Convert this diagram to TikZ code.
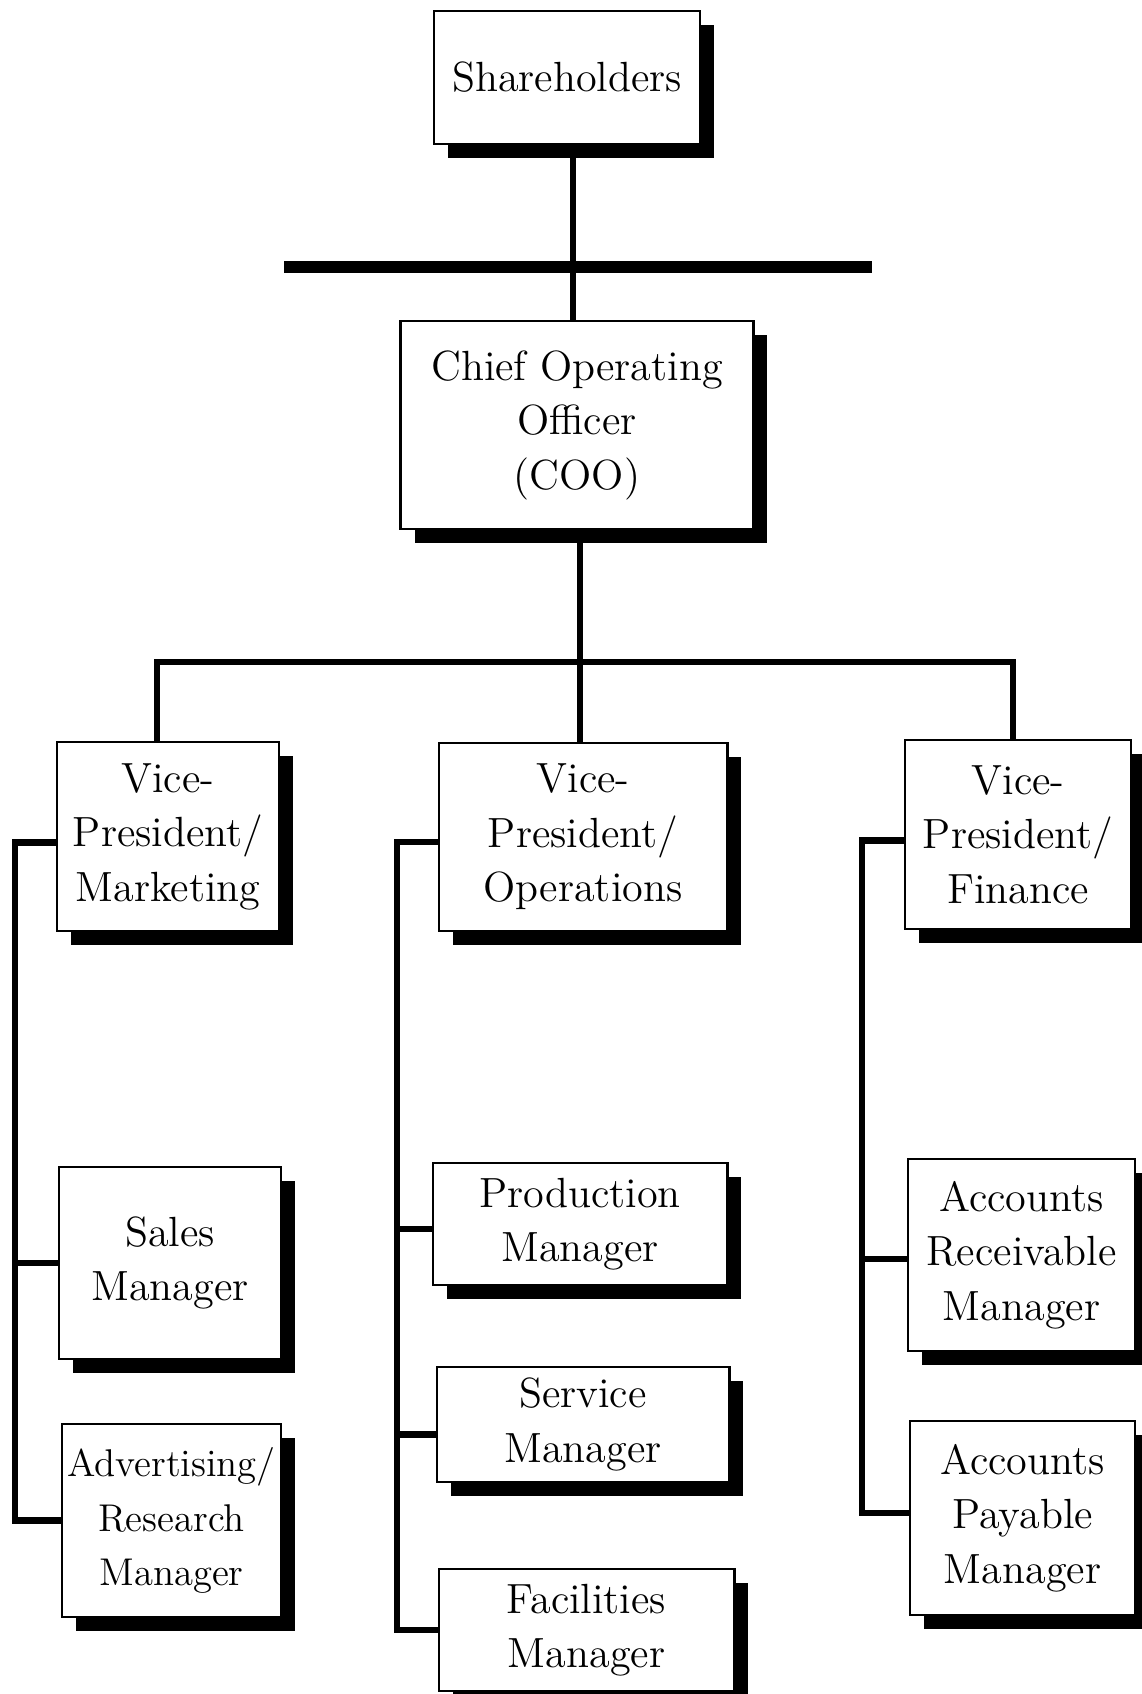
\documentclass[tikz,border=0pt]{standalone}
\usetikzlibrary{shadows}
\begin{document}
\begin{tikzpicture}[x=0.01cm,y=-0.01cm,
  post/.style={draw,line width=0.8pt,fill=white,align=center,inner sep=0pt,
    font=\fontsize{12}{15.5}\selectfont,
    drop shadow={shadow xshift=0.14cm,shadow yshift=-0.14cm,fill=black,opacity=1}},
  link/.style={line width=1.8pt},
  bar/.style={line width=3.4pt}]
\useasboundingbox (0,0) rectangle (1141,1694);
% top of the chart
\node[post,minimum width=2.66cm,minimum height=1.33cm] (sh) at (567,77.5) {Shareholders};
\node[post,minimum width=3.52cm,minimum height=2.08cm] (coo) at (577,425) {Chief Operating\\Officer\\(COO)};
% vice-presidents
\node[post,minimum width=2.22cm,minimum height=1.89cm] (vpm) at (168,836.5) {Vice-\\President/\\Marketing};
\node[post,minimum width=2.88cm,minimum height=1.88cm] (vpo) at (583,837) {Vice-\\President/\\Operations};
\node[post,minimum width=2.26cm,minimum height=1.89cm] (vpf) at (1018,834.5) {Vice-\\President/\\Finance};
% managers
\node[post,minimum width=2.22cm,minimum height=1.92cm] (sales) at (170,1263) {Sales\\Manager};
\node[post,minimum width=2.19cm,minimum height=1.93cm,font=\fontsize{11}{15.5}\selectfont] (adv) at (171.5,1520.5) {Advertising/\\Research\\Manager};
\node[post,minimum width=2.94cm,minimum height=1.22cm] (prod) at (580,1224) {Production\\Manager};
\node[post,minimum width=2.92cm,minimum height=1.15cm] (serv) at (583,1424.5) {Service\\Manager};
\node[post,minimum width=2.95cm,minimum height=1.22cm] (fac) at (586.5,1630) {Facilities\\Manager};
\node[post,minimum width=2.27cm,minimum height=1.92cm] (ar) at (1021.5,1255) {Accounts\\Receivable\\Manager};
\node[post,minimum width=2.25cm,minimum height=1.94cm] (ap) at (1022.5,1518) {Accounts\\Payable\\Manager};
% connectors
\coordinate (busL) at (284,267);
\coordinate (busR) at (872,267);
\coordinate (top) at (573,267);
\coordinate (hub) at (580,662);
\coordinate (jm) at (157,662);
\coordinate (jf) at (1013,662);
\coordinate (spm) at (15,0);
\coordinate (spo) at (397,0);
\coordinate (spf) at (862,0);
\draw[bar] (busL) -- (busR);
\draw[link] (sh.south -| top) -- (coo.north -| top);
\draw[link] (coo.south -| hub) -- (vpo.north -| hub);
\draw[link] (vpm.north -| jm) |- (jf) -- (vpf.north -| jf);
\draw[link] ([yshift=-0.06cm]vpm.west) -| (spm |- adv.west) -- (adv.west);
\draw[link] (spm |- sales.west) -- (sales.west);
\draw[link] ([yshift=-0.05cm]vpo.west) -| (spo |- fac.west) -- (fac.west);
\draw[link] ([yshift=-0.05cm]spo |- prod.west) -- ([yshift=-0.05cm]prod.west);
\draw[link] ([yshift=-0.1cm]spo |- serv.west) -- ([yshift=-0.1cm]serv.west);
\draw[link] ([yshift=-0.06cm]vpf.west) -| ([yshift=0.05cm]spf |- ap.west) -- ([yshift=0.05cm]ap.west);
\draw[link] ([yshift=-0.04cm]spf |- ar.west) -- ([yshift=-0.04cm]ar.west);
\end{tikzpicture}
\end{document}
